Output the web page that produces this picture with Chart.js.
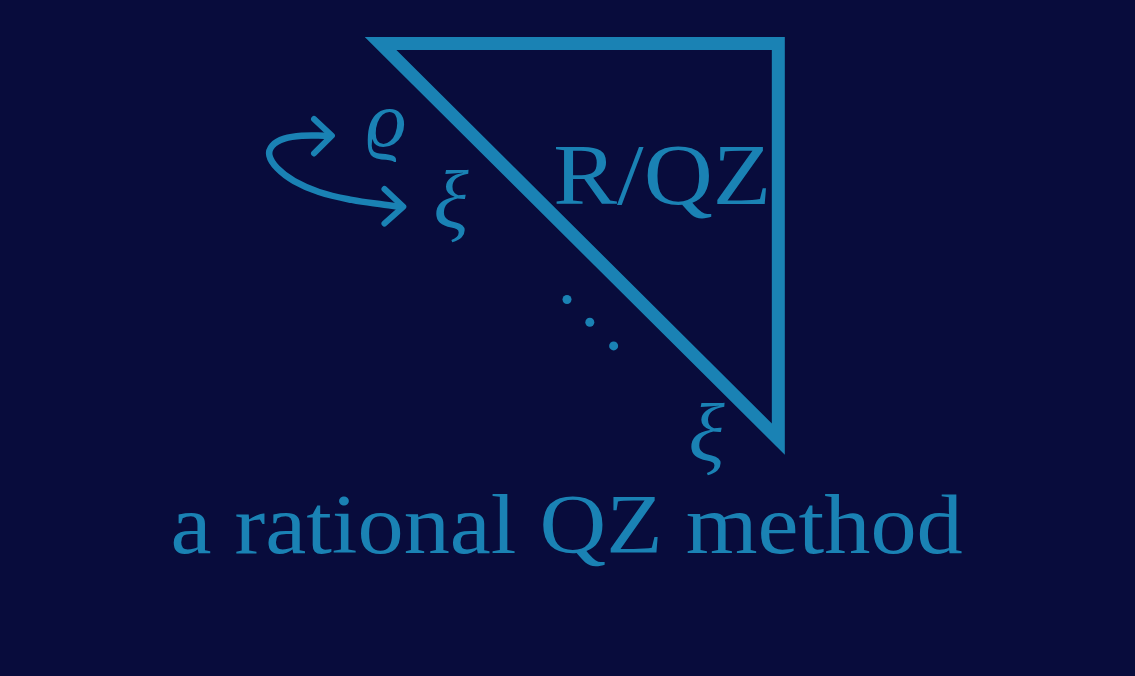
<!DOCTYPE html>
<html>
<head>
<meta charset="utf-8">
<script src="https://cdn.jsdelivr.net/npm/chart.js@4"></script>
<style>
  html, body { margin: 0; padding: 0; background: #080c3c; }
  canvas { display: block; }
</style>
</head>
<body>
<canvas id="logo" width="1135" height="676"></canvas>
<script>
// triangle outline (starts mid top edge so every corner gets a miter join)
const triX = [580, 780, 780, 379, 580];
const triY = [39.5, 39.5, 440.5, 39.5, 39.5];

// curved arrow on the left
const loopX = [326, 300, 282, 270, 267, 275, 292, 317, 350, 383, 398];
const loopY = [133, 133, 136, 143, 153, 166, 179, 190, 198, 203, 205];
const headAX = [312, 330, 312];
const headAY = [116, 133, 151];
const headBX = [383, 402, 383];
const headBY = [187, 205, 222];

// the diagonal dots
const dotX = [567, 590, 614];
const dotY = [299, 322, 346];

// labels
const labelTexts = ['a rational QZ method', 'R/QZ', 'ϱ', 'ξ', 'ξ'];
const labelX0 = [170, 555, 366, 435, 692];
const labelX1 = [965, 768, 403, 468, 726];
const labelTop = [498, 145, 107, 168, 404];
const labelBottom = [556, 202, 160, 242, 478];

const BLUE = '#1a82b4';
const BG = '#080c3c';

const pts = (xs, ys) => xs.map((x, i) => ({ x, y: ys[i] }));

const bgPlugin = {
    id: 'bg',
    beforeDraw(chart) {
        const ctx = chart.ctx;
        ctx.save();
        ctx.fillStyle = BG;
        ctx.fillRect(0, 0, chart.width, chart.height);
        ctx.restore();
    }
};

const labelPlugin = {
    id: 'labels',
    afterDatasetsDraw(chart) {
        const ctx = chart.ctx;
        const xs = chart.scales.x, ys = chart.scales.y;
        labelTexts.forEach((text, i) => {
            const italic = i >= 2;
            const font = (italic ? 'italic ' : '') + "100px 'Liberation Serif', 'DejaVu Serif', serif";
            const x0 = xs.getPixelForValue(labelX0[i]);
            const x1 = xs.getPixelForValue(labelX1[i]);
            const top = ys.getPixelForValue(labelTop[i]);
            const bottom = ys.getPixelForValue(labelBottom[i]);
            ctx.save();
            ctx.font = font;
            ctx.textAlign = 'left';
            ctx.textBaseline = 'alphabetic';
            const m = ctx.measureText(text);
            const left = -m.actualBoundingBoxLeft;
            const right = m.actualBoundingBoxRight;
            let asc, desc;
            if (italic) {
                asc = m.actualBoundingBoxAscent;
                desc = m.actualBoundingBoxDescent;
            } else if (/[a-z]/.test(text)) {
                // lower case text: ascenders and caps share the top line roughly
                asc = (ctx.measureText('H').actualBoundingBoxAscent + ctx.measureText('l').actualBoundingBoxAscent) / 2;
                desc = 0;
            } else {
                asc = ctx.measureText('H').actualBoundingBoxAscent;
                desc = 0;
            }
            const sx = (x1 - x0) / (right - left);
            const sy = (bottom - top) / (asc + desc);
            ctx.translate(x0 - left * sx, top + asc * sy);
            ctx.scale(sx, sy);
            ctx.fillStyle = BLUE;
            ctx.fillText(text, 0, 0);
            ctx.restore();
        });
    }
};

const lineDs = (data, width, extra) => Object.assign({
    data,
    showLine: true,
    borderColor: BLUE,
    backgroundColor: BLUE,
    borderWidth: width,
    pointRadius: 0,
    clip: false
}, extra || {});

new Chart(document.getElementById('logo'), {
    type: 'scatter',
    data: {
        datasets: [
            lineDs(pts(triX, triY), 13, { borderJoinStyle: 'miter', tension: 0 }),
            lineDs(pts(loopX, loopY), 6.5, { tension: 0.4, borderCapStyle: 'round' }),
            lineDs(pts(headAX, headAY), 6, { borderCapStyle: 'round', borderJoinStyle: 'round' }),
            lineDs(pts(headBX, headBY), 6, { borderCapStyle: 'round', borderJoinStyle: 'round' }),
            {
                data: pts(dotX, dotY),
                pointRadius: 4.5,
                pointBorderWidth: 0,
                backgroundColor: BLUE,
                borderColor: BLUE,
                clip: false
            }
        ]
    },
    options: {
        responsive: false,
        animation: false,
        devicePixelRatio: 1,
        layout: { padding: 0 },
        plugins: { legend: { display: false }, tooltip: { enabled: false } },
        scales: {
            x: { type: 'linear', min: 0, max: 1135, display: false },
            y: { type: 'linear', min: 0, max: 676, reverse: true, display: false }
        }
    },
    plugins: [bgPlugin, labelPlugin]
});
</script>
</body>
</html>
